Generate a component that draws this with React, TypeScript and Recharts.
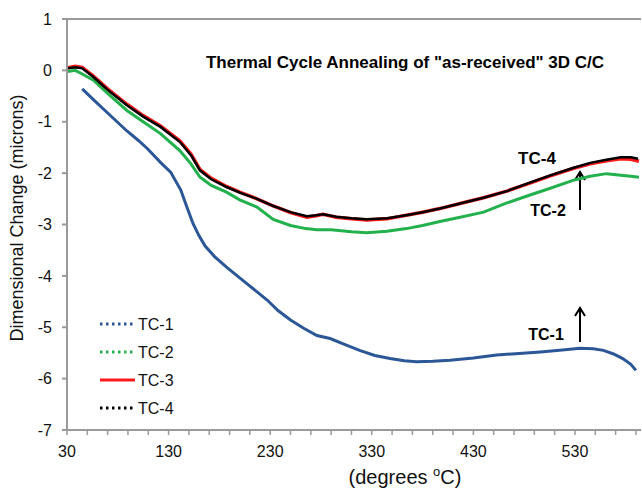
import { LineChart, Line, XAxis, YAxis, ReferenceLine } from "recharts"

// temperatures (deg C) and dimensional change (microns)
const tc1Temps = [45, 56, 70, 89, 100, 109, 122, 132, 142, 148, 154, 160, 166, 175, 187, 207, 227, 238, 250, 263, 276, 289, 305, 318, 333, 348, 362, 374, 390, 407, 430, 453, 475, 496, 515, 535, 548, 558, 568, 577, 585, 590]
const tc1Values = [-0.36, -0.57, -0.83, -1.18, -1.36, -1.52, -1.79, -1.98, -2.33, -2.66, -2.98, -3.22, -3.42, -3.62, -3.83, -4.15, -4.47, -4.68, -4.86, -5.02, -5.16, -5.22, -5.35, -5.45, -5.55, -5.61, -5.65, -5.67, -5.66, -5.64, -5.6, -5.54, -5.51, -5.48, -5.45, -5.41, -5.42, -5.45, -5.52, -5.61, -5.72, -5.84]

const tc2Temps = [31, 38, 45, 56, 70, 89, 105, 122, 141, 152, 161, 172, 187, 200, 217, 233, 250, 265, 276, 290, 310, 325, 345, 364, 380, 397, 417, 440, 463, 485, 505, 528, 545, 561, 575, 585, 593]
const tc2Values = [-0.02, 0.0, -0.07, -0.19, -0.45, -0.78, -1.0, -1.23, -1.56, -1.82, -2.08, -2.24, -2.37, -2.52, -2.66, -2.9, -3.02, -3.08, -3.1, -3.1, -3.14, -3.16, -3.13, -3.08, -3.02, -2.94, -2.86, -2.76, -2.58, -2.43, -2.3, -2.14, -2.06, -2.01, -2.04, -2.06, -2.08]

const tc3Temps = [31, 38, 45, 56, 70, 89, 105, 122, 141, 152, 161, 172, 187, 200, 217, 233, 250, 266, 275, 282, 295, 310, 325, 345, 364, 380, 397, 417, 440, 463, 485, 505, 528, 545, 561, 575, 585, 593]
const tc3Values = [0.05, 0.08, 0.06, -0.11, -0.36, -0.66, -0.88, -1.08, -1.37, -1.63, -1.93, -2.1, -2.26, -2.37, -2.5, -2.64, -2.77, -2.86, -2.83, -2.8, -2.86, -2.89, -2.91, -2.89, -2.82, -2.76, -2.69, -2.59, -2.48, -2.35, -2.2, -2.06, -1.91, -1.82, -1.76, -1.72, -1.73, -1.77]

const tc4Temps = [31, 38, 45, 56, 70, 89, 105, 122, 141, 152, 161, 172, 187, 200, 217, 233, 250, 266, 275, 282, 295, 310, 325, 345, 364, 380, 397, 417, 440, 463, 485, 505, 528, 545, 561, 575, 585, 592]
const tc4Values = [0.04, 0.06, 0.04, -0.13, -0.38, -0.68, -0.9, -1.1, -1.39, -1.65, -1.95, -2.12, -2.27, -2.38, -2.5, -2.64, -2.76, -2.84, -2.82, -2.8, -2.85, -2.88, -2.9, -2.88, -2.82, -2.76, -2.69, -2.59, -2.48, -2.35, -2.19, -2.05, -1.9, -1.8, -1.74, -1.69, -1.69, -1.72]

const xTicks = [30, 50, 70, 90, 110, 130, 150, 170, 190, 210, 230, 250, 270, 290, 310, 330, 350, 370, 390, 410, 430, 450, 470, 490, 510, 530, 550, 570, 590]
const xLabels = [30, 130, 230, 330, 430, 530]
const yTicks = [-7, -6, -5, -4, -3, -2, -1, 0, 1]

const seriesNames = ["TC-1", "TC-2", "TC-3", "TC-4"]
const colors = ["#2b5797", "#22b14c", "#ff1a1a", "#000000"]

const toPoints = (temps: number[], values: number[]) =>
  temps.map((t, i) => ({ t, v: values[i] }))

const tc1 = toPoints(tc1Temps, tc1Values)
const tc2 = toPoints(tc2Temps, tc2Values)
const tc3 = toPoints(tc3Temps, tc3Values)
const tc4 = toPoints(tc4Temps, tc4Values)

const axisGray = "#9a9a9a"
const font = "'Liberation Sans', Arial, sans-serif"

const XTick = (props: any) => {
  const { x, y, payload } = props
  const major = xLabels.includes(payload.value)
  return (
    <g>
      <line x1={x} x2={x} y1={y} y2={y + 5} stroke={axisGray} strokeWidth={1.5} />
      {major && (
        <text x={x} y={y + 27} textAnchor="middle" fontSize={16} fill="#111" fontFamily={font}>
          {payload.value}
        </text>
      )}
    </g>
  )
}

// legend box drawn in the lower left of the plot
const LegendBox = () => (
  <g transform="translate(95 310)">
    {seriesNames.map((name, i) => (
      <g key={name}>
        <line
          x1={5}
          x2={40}
          y1={14 + i * 28}
          y2={14 + i * 28}
          stroke={colors[i]}
          strokeWidth={3}
          strokeDasharray={i === 2 ? undefined : "2.5 3.5"}
        />
        <text x={43} y={14 + i * 28} dy="0.35em" fontSize={16} fill="#111" fontFamily={font}>
          {name}
        </text>
      </g>
    ))}
  </g>
)

export default function App() {
  return (
    <div style={{ position: "absolute", left: 0, top: 0, width: 642, height: 490, background: "#fff", fontFamily: font }}>
      <LineChart width={642} height={490} margin={{ top: 19, right: 1, left: 0, bottom: 0 }}>
        <XAxis
          dataKey="t"
          type="number"
          domain={[30, 595]}
          ticks={xTicks}
          interval={0}
          allowDataOverflow
          height={60}
          stroke={axisGray}
          strokeWidth={2}
          tickLine={false}
          tickSize={0}
          tickMargin={0}
          tick={<XTick />}
        />
        <YAxis
          type="number"
          domain={[-7, 1]}
          ticks={yTicks}
          interval={0}
          width={67}
          stroke={axisGray}
          strokeWidth={2}
          tickSize={5}
          tickMargin={10}
          tick={{ fontSize: 16, fill: "#111", fontFamily: font }}
        />
        <ReferenceLine y={1} stroke={axisGray} strokeWidth={2} />
        <Line data={tc1} dataKey="v" name="TC-1" stroke={colors[0]} strokeWidth={3} dot={false} isAnimationActive={false} />
        <Line data={tc2} dataKey="v" name="TC-2" stroke={colors[1]} strokeWidth={3} dot={false} isAnimationActive={false} />
        <Line data={tc3} dataKey="v" name="TC-3" stroke={colors[2]} strokeWidth={3.5} dot={false} isAnimationActive={false} />
        <Line data={tc4} dataKey="v" name="TC-4" stroke={colors[3]} strokeWidth={2.5} dot={false} isAnimationActive={false} />
        <LegendBox />
        <text x={405} y={68} textAnchor="middle" fontSize={17} fontWeight="bold" fill="#000" fontFamily={font}>
          Thermal Cycle Annealing of "as-received" 3D C/C
        </text>
        <text x={537} y={164} textAnchor="middle" fontSize={17} fontWeight="bold" fill="#000" fontFamily={font}>TC-4</text>
        <text x={548} y={216} textAnchor="middle" fontSize={16} fontWeight="bold" fill="#000" fontFamily={font}>TC-2</text>
        <text x={546} y={340} textAnchor="middle" fontSize={16} fontWeight="bold" fill="#000" fontFamily={font}>TC-1</text>
        <g stroke="#000" strokeWidth={2} fill="none">
          <line x1={580} y1={210} x2={580} y2={174} />
          <path d="M575,180 L580,172 L585,180" />
          <line x1={580} y1={342} x2={580} y2={310} />
          <path d="M575,316 L580,308 L585,316" />
        </g>
        <text x={18} y={218} transform="rotate(-90 18 218)" textAnchor="middle" dominantBaseline="middle" fontSize={18} fill="#111" fontFamily={font}>
          Dimensional Change (microns)
        </text>
        <text x={405} y={484} textAnchor="middle" fontSize={20} fill="#111" fontFamily={font}>
          (degrees <tspan fontSize={13} dy={-8}>o</tspan><tspan dy={8}>C)</tspan>
        </text>
      </LineChart>
    </div>
  )
}
